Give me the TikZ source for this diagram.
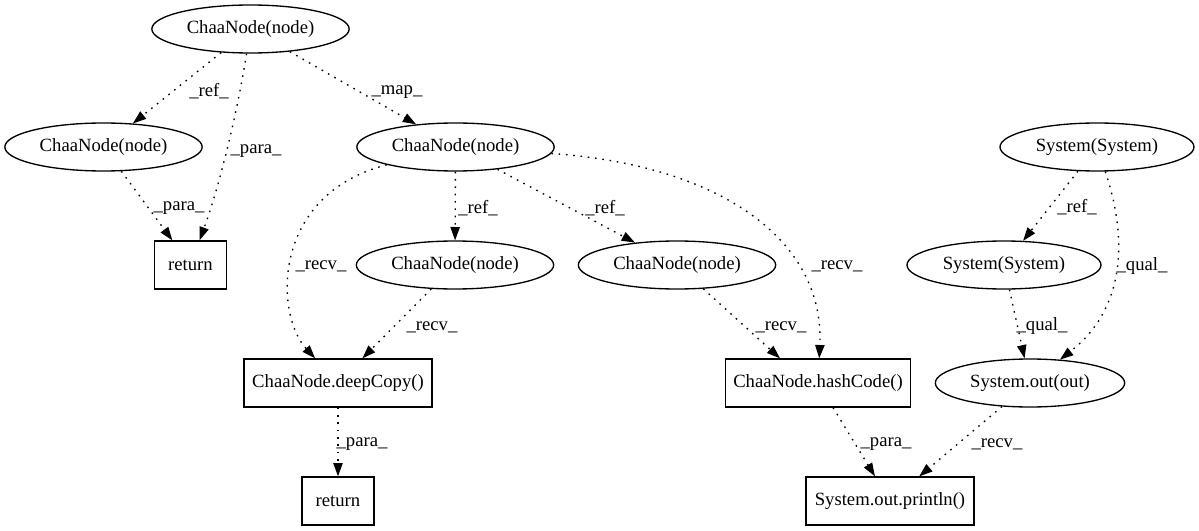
\documentclass[tikz,border=0pt]{standalone}
\usepackage{fontspec}
\setmainfont{Liberation Serif}
\usetikzlibrary{arrows.meta,calc,shapes.geometric}
\begin{document}
\begin{tikzpicture}[x=0.75pt,y=-0.75pt,
  every node/.style={font=\fontsize{14pt}{16pt}\selectfont},
  el/.style={draw,ellipse,line width=1pt,inner sep=0pt,minimum height=36pt},
  bx/.style={draw,rectangle,line width=1pt,inner sep=0pt,minimum height=36pt},
  edge/.style={line width=1pt,dash pattern=on 1.2pt off 4.3pt,-{Triangle[length=10pt,width=7pt]}},
  lbl/.style={inner sep=0pt}]
\useasboundingbox (0,0) rectangle (1199,531);
% nodes
\node[el,minimum width=148pt] (A) at (250.5,29) {ChaaNode(node)};
\node[el,minimum width=148pt] (B) at (103.5,147) {ChaaNode(node)};
\node[el,minimum width=148pt] (C) at (455.5,147) {ChaaNode(node)};
\node[bx,minimum width=54pt] (R1) at (190.5,265) {return};
\node[el,minimum width=148pt] (D) at (455,265) {ChaaNode(node)};
\node[el,minimum width=148pt] (E) at (677,265) {ChaaNode(node)};
\node[el,minimum width=145.5pt] (H) at (1097,147) {System(System)};
\node[el,minimum width=145.5pt] (I) at (1004,265) {System(System)};
\node[bx,minimum width=141pt] (F) at (338,383) {ChaaNode.deepCopy()};
\node[bx,minimum width=139pt] (G) at (818,383) {ChaaNode.hashCode()};
\node[el,minimum width=142pt] (J) at (1030,383) {System.out(out)};
\node[bx,minimum width=54pt] (R2) at (338,501) {return};
\node[bx,minimum width=126pt] (K) at (890,501) {System.out.println()};
% edges
\draw[edge] (A) -- (B);
\draw[edge] (A) .. controls (236,120) and (218,190) .. (R1);
\draw[edge] (B) -- (R1);
\draw[edge] (A) -- (C);
\draw[edge] (C) -- (D);
\draw[edge] (C) -- (E);
\draw[edge] (C) .. controls (270,195) and (275,315) .. (F);
\draw[edge] (D) -- (F);
\draw[edge] (C) .. controls (720,165) and (825,240) .. (G);
\draw[edge] (E) -- ($(G.north)+(-38,0)$);
\draw[edge] (F) -- (R2);
\draw[edge] (G) -- (K);
\draw[edge] (J) -- (K);
\draw[edge] (H) -- (I);
\draw[edge] (H) .. controls (1125,230) and (1130,305) .. (J);
\draw[edge] (I) -- (J);
% labels
\node[lbl] (l1) at (209,91) {\_ref\_};
\node[lbl] (l2) at (256,151) {\_para\_};
\node[lbl] (l3) at (179,208) {\_para\_};
\node[lbl] (l4) at (397,92) {\_map\_};
\node[lbl] (l5) at (478,208) {\_ref\_};
\node[lbl] (l6) at (605,208) {\_ref\_};
\node[lbl] (l7) at (321,266) {\_recv\_};
\node[lbl] (l8) at (837,266) {\_recv\_};
\node[lbl] (l9) at (432,327) {\_recv\_};
\node[lbl] (l10) at (781,327) {\_recv\_};
\node[lbl] (l11) at (362,444) {\_para\_};
\node[lbl] (l12) at (886,444) {\_para\_};
\node[lbl] (l13) at (997,444) {\_recv\_};
\node[lbl] (l14) at (1077,207) {\_ref\_};
\node[lbl] (l15) at (1142,266) {\_qual\_};
\node[lbl] (l16) at (1042,326) {\_qual\_};
\end{tikzpicture}
\end{document}
